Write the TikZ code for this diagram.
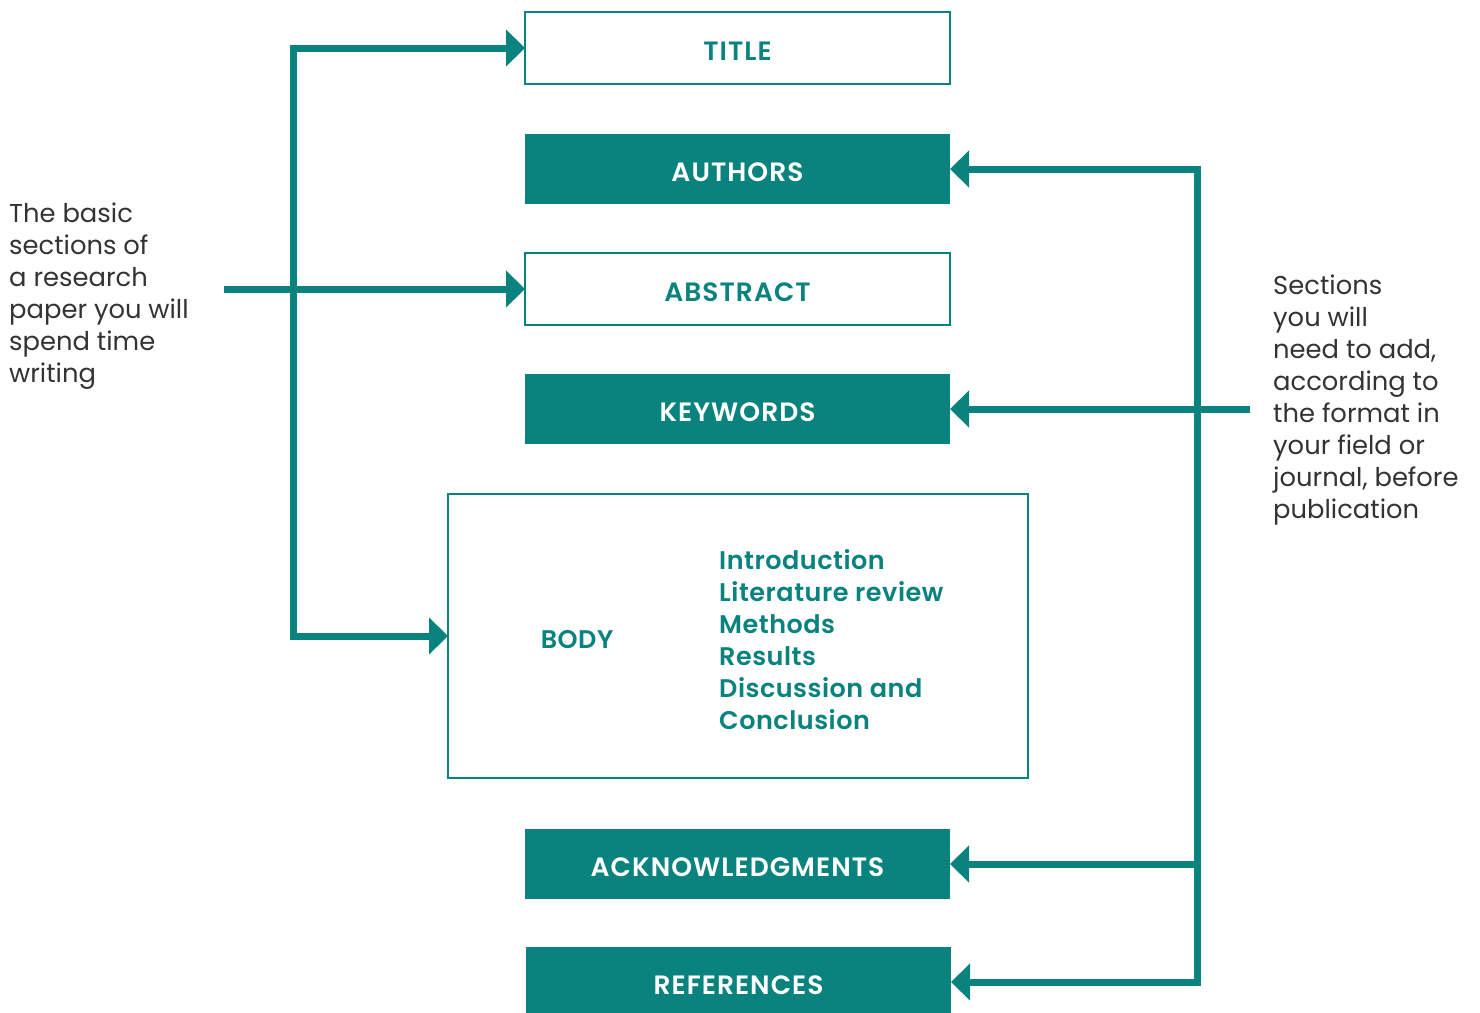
\documentclass[tikz,border=0pt]{standalone}
\usepackage{fontspec}
\setmainfont{Poppins}[BoldFont={Poppins SemiBold}]
\newfontfamily\lblfont{Poppins SemiBold}[LetterSpace=4]
\newfontfamily\listfont{Poppins SemiBold}[LetterSpace=2]
\usetikzlibrary{arrows.meta}
\definecolor{teal1}{HTML}{0A837F}
\definecolor{txt}{HTML}{333333}
\tikzset{
  lbl/.style={font=\fontsize{26.5pt}{30pt}\lblfont},
  obox/.style={draw=teal1, line width=1.6pt, fill=white, text=teal1, lbl, inner sep=0pt, outer sep=0pt, text height=24pt, text depth=0pt},
  fbox/.style={fill=teal1, text=white, lbl, inner sep=0pt, outer sep=0pt, text height=24pt, text depth=0pt},
  conn/.style={draw=teal1, line width=7pt, line join=miter, -{Triangle[length=19pt,width=36pt]}},
  conn2/.style={draw=teal1, line width=7pt, line join=miter, {Triangle[length=19pt,width=36pt]}-{Triangle[length=19pt,width=36pt]}},
  side/.style={text=txt, font=\fontsize{25.8pt}{32pt}\selectfont, align=left, inner sep=0pt, anchor=west},
}
\begin{document}
\begin{tikzpicture}[x=1pt,y=-1pt]
\useasboundingbox (0,0) rectangle (1480,1012);
% boxes
\node[obox, minimum width=425pt, minimum height=72pt] (title) at (737.5,48) {TITLE};
\node[fbox, minimum width=425pt, minimum height=70pt] (authors) at (737.5,169) {AUTHORS};
\node[obox, minimum width=425pt, minimum height=72pt] (abstract) at (737.5,289) {ABSTRACT};
\node[fbox, minimum width=425pt, minimum height=70pt] (keywords) at (737.5,409) {KEYWORDS};
\node[obox, minimum width=580pt, minimum height=284pt] (body) at (738,636) {};
\node[text=teal1, font=\fontsize{25.5pt}{30pt}\listfont, inner sep=0pt] (bodylbl) at (577,640) {BODY};
\node[text=teal1, font=\fontsize{25.5pt}{32pt}\listfont, align=left, inner sep=0pt, anchor=west] (bodylist) at (719,640) {Introduction\\Literature review\\Methods\\Results\\Discussion and\\Conclusion};
\node[fbox, minimum width=425pt, minimum height=70pt] (ack) at (737.5,864) {ACKNOWLEDGMENTS};
\node[fbox, minimum width=425pt, minimum height=70pt] (refs) at (738.5,982) {REFERENCES};
% side texts
\node[side] (lefttext) at (9,296) {The basic\\sections of\\a research\\paper you will\\spend time\\writing};
\node[side] (righttext) at (1273,400) {Sections\\you will\\need to add,\\according to\\the format in\\your field or\\journal, before\\publication};
% left connectors
\coordinate (lx) at (293,636);
\coordinate (lstart) at (224,289);
\draw[conn2] (title.west) -| (lx) -- (body.west);
\draw[conn] (lstart) -- (abstract.west);
% right connectors
\coordinate (rx) at (1197,982);
\coordinate (rstart) at (1250,409);
\draw[conn2] (authors.east) -| (rx) -- (refs.east);
\draw[conn] (rx |- ack.east) -- (ack.east);
\draw[conn] (rstart) -- (keywords.east);
\end{tikzpicture}
\end{document}
